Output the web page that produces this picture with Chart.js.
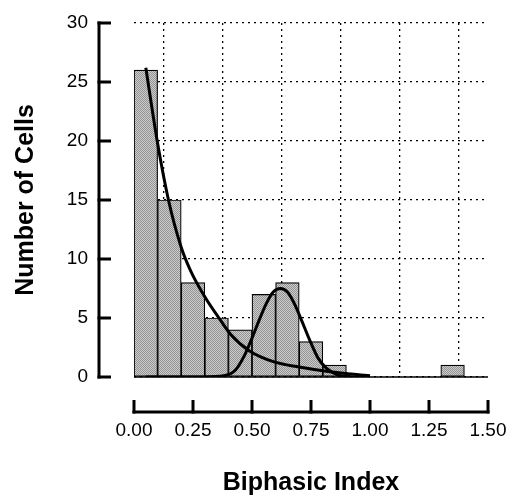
<!DOCTYPE html>
<html>
<head>
<meta charset="utf-8">
<script src="https://cdn.jsdelivr.net/npm/chart.js@4.4.1/dist/chart.umd.min.js"></script>
<style>
  html, body { margin: 0; padding: 0; background: #fff; }
  #wrap { width: 516px; height: 496px; }
</style>
</head>
<body>
<div id="wrap"><canvas id="histChart" width="516" height="496"></canvas></div>
<script>
// histogram bins (centre of each 0.1 wide bin) and cell counts
const binCenters = [0.05, 0.15, 0.25, 0.35, 0.45, 0.55, 0.65, 0.75, 0.85, 0.95, 1.05, 1.15, 1.25, 1.35];
const cellCounts = [26, 15, 8, 5, 4, 7, 8, 3, 1, 0, 0, 0, 0, 1];

// decaying fit curve
const decayX = [0.05, 0.10, 0.146, 0.20, 0.24, 0.30, 0.36, 0.41, 0.49, 0.59, 0.70, 0.83, 1.00];
const decayY = [26.2, 19.8, 15.0, 11.0, 9.0, 6.8, 5.0, 3.6, 2.2, 1.3, 0.85, 0.45, 0.1];

// peaked fit curve
const peakX = [0.05, 0.30, 0.38, 0.43, 0.47, 0.50, 0.53, 0.56, 0.59, 0.62, 0.65, 0.68, 0.71, 0.745, 0.78, 0.815, 0.86, 0.92, 1.00];
const peakY = [0, 0, 0.1, 0.6, 1.9, 3.3, 4.8, 6.2, 7.2, 7.5, 7.2, 6.2, 4.8, 3.1, 1.6, 0.75, 0.2, 0.03, 0];

const xTicks = [0, 0.25, 0.5, 0.75, 1.0, 1.25, 1.5];
const yTicks = [0, 5, 10, 15, 20, 25, 30];

const FONT = "'Liberation Sans', Arial, Helvetica, sans-serif";

function makeBarPattern() {
  const c = document.createElement('canvas');
  c.width = 2; c.height = 2;
  const g = c.getContext('2d');
  g.fillStyle = '#cccccc'; g.fillRect(0, 0, 2, 2);
  g.fillStyle = '#939393'; g.fillRect(0, 0, 1, 1); g.fillRect(1, 1, 1, 1);
  return g.createPattern(c, 'repeat');
}

// no extra room for label overflow, the plot box is fixed
function fixBox(s, size) {
  if (s.isHorizontal()) s.height = size; else s.width = size;
  s.paddingTop = 0; s.paddingBottom = 0;
  s.paddingLeft = 0; s.paddingRight = 0;
}

// detached axes like the original figure, positioned from the library's scales
const detachedAxes = {
  id: 'detachedAxes',
  beforeDatasetsDraw(chart) {
    const { ctx, chartArea, scales: { y } } = chart;
    ctx.save();
    ctx.strokeStyle = '#000';
    ctx.lineWidth = 1.5;
    const y0 = y.getPixelForValue(0);
    ctx.beginPath();
    ctx.moveTo(chartArea.left, y0);
    ctx.lineTo(chartArea.right, y0);
    ctx.stroke();
    ctx.restore();
  },
  afterDraw(chart) {
    const { ctx, chartArea, scales: { x, y } } = chart;
    ctx.save();
    ctx.strokeStyle = '#000';
    ctx.lineWidth = 3;
    ctx.lineCap = 'butt';

    const ax = chartArea.left - 35;
    ctx.beginPath();
    ctx.moveTo(ax, y.getPixelForValue(yTicks[yTicks.length - 1]) - 1.5);
    ctx.lineTo(ax, y.getPixelForValue(0) + 1.5);
    ctx.stroke();
    yTicks.forEach(v => {
      const py = y.getPixelForValue(v);
      ctx.beginPath();
      ctx.moveTo(ax - 1.5, py);
      ctx.lineTo(ax + 12, py);
      ctx.stroke();
    });

    const ay = chartArea.bottom + 35;
    ctx.beginPath();
    ctx.moveTo(x.getPixelForValue(0) - 1.5, ay);
    ctx.lineTo(x.getPixelForValue(1.5) + 1.5, ay);
    ctx.stroke();
    xTicks.forEach(v => {
      const px = x.getPixelForValue(v);
      ctx.beginPath();
      ctx.moveTo(px, ay + 1.5);
      ctx.lineTo(px, ay - 12);
      ctx.stroke();
    });
    ctx.restore();
  }
};

const ctx = document.getElementById('histChart').getContext('2d');

new Chart(ctx, {
  type: 'bar',
  data: {
    datasets: [
      {
        type: 'line',
        data: decayX.map((v, i) => ({ x: v, y: decayY[i] })),
        borderColor: '#000',
        borderWidth: 3,
        pointRadius: 0,
        fill: false,
        cubicInterpolationMode: 'monotone',
        order: 0
      },
      {
        type: 'line',
        data: peakX.map((v, i) => ({ x: v, y: peakY[i] })),
        borderColor: '#000',
        borderWidth: 3,
        pointRadius: 0,
        fill: false,
        cubicInterpolationMode: 'monotone',
        order: 1
      },
      {
        type: 'bar',
        data: binCenters.map((v, i) => ({ x: v, y: cellCounts[i] })),
        backgroundColor: makeBarPattern(),
        borderColor: '#000',
        borderWidth: 1.2,
        borderSkipped: false,
        barPercentage: 1,
        categoryPercentage: 1,
        order: 2
      }
    ]
  },
  options: {
    responsive: false,
    animation: false,
    layout: { padding: { top: 23, right: 28, left: 0, bottom: 0 } },
    plugins: {
      legend: { display: false },
      tooltip: { enabled: false }
    },
    scales: {
      x: {
        type: 'linear',
        min: 0,
        max: 1.5,
        offset: false,
        afterFit: s => fixBox(s, 119),
        afterBuildTicks: s => { s.ticks = xTicks.map(v => ({ value: v })); },
        grid: { color: '#000', lineWidth: 1.3, drawTicks: false },
        border: { display: false, dash: [2, 4] },
        ticks: {
          padding: 42,
          maxRotation: 0,
          autoSkip: false,
          color: '#000',
          font: { family: FONT, size: 19 },
          callback: v => Number(v).toFixed(2)
        },
        title: {
          display: true,
          text: 'Biphasic Index',
          color: '#000',
          font: { family: FONT, size: 25, weight: 'bold', lineHeight: 1 },
          padding: { top: 0, bottom: 0 }
        }
      },
      y: {
        min: 0,
        max: 30,
        afterFit: s => fixBox(s, 134),
        afterBuildTicks: s => { s.ticks = yTicks.map(v => ({ value: v })); },
        grid: { color: '#000', lineWidth: 1.3, drawTicks: false },
        border: { display: false, dash: [2, 4] },
        ticks: {
          padding: 46,
          color: '#000',
          font: { family: FONT, size: 19 }
        },
        title: {
          display: true,
          text: 'Number of Cells',
          color: '#000',
          font: { family: FONT, size: 25, weight: 'bold', lineHeight: 1 },
          padding: { top: 14, bottom: 0 }
        }
      }
    }
  },
  plugins: [detachedAxes]
});
</script>
</body>
</html>
